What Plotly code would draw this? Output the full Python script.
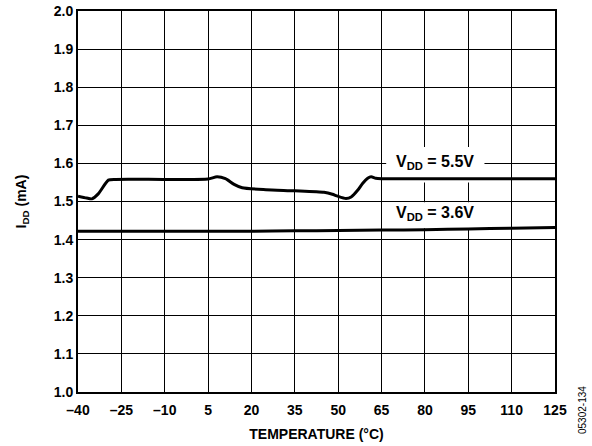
import plotly.graph_objects as go

# Data
temp_55 = [-40, -37, -35.2, -33, -29.5, -27, -10, 5, 8.1, 11, 14, 16.8, 25, 35, 45.1, 48, 49.8, 52.7, 54.5, 56.8, 58.5, 60.2, 61.4, 63, 65, 80, 95, 110, 125]
idd_55 = [1.514, 1.509, 1.507, 1.520, 1.556, 1.558, 1.558, 1.559, 1.565, 1.560, 1.545, 1.536, 1.531, 1.528, 1.524, 1.519, 1.514, 1.508, 1.512, 1.530, 1.548, 1.561, 1.565, 1.561, 1.560, 1.560, 1.560, 1.560, 1.560]
temp_36 = [-40, -10, 5, 20, 35, 50, 65, 80, 95, 110, 125]
idd_36 = [1.422, 1.422, 1.422, 1.422, 1.423, 1.424, 1.425, 1.426, 1.428, 1.430, 1.432]

x_ticks = [-40, -25, -10, 5, 20, 35, 50, 65, 80, 95, 110, 125]
x_ticktext = ["–40", "–25", "–10", "5", "20", "35", "50", "65", "80", "95", "110", "125"]
y_ticks = [1.0, 1.1, 1.2, 1.3, 1.4, 1.5, 1.6, 1.7, 1.8, 1.9, 2.0]
y_ticktext = ["1.0", "1.1", "1.2", "1.3", "1.4", "1.5", "1.6", "1.7", "1.8", "1.9", "2.0"]

font = "Liberation Sans, Arial, sans-serif"
W, H = 592, 446
L, R, T, B = 78, 37, 11, 54

fig = go.Figure()
fig.add_trace(go.Scatter(x=temp_55, y=idd_55, mode="lines",
                         line=dict(color="black", width=3, shape="spline", smoothing=0.6),
                         showlegend=False))
fig.add_trace(go.Scatter(x=temp_36, y=idd_36, mode="lines",
                         line=dict(color="black", width=3, shape="spline"),
                         showlegend=False))

# white boxes behind labels (hide gridlines)
fig.add_shape(type="rect", x0=66.6, x1=100.6, y0=1.55, y1=1.643, layer="between",
              fillcolor="white", line=dict(width=0))
fig.add_shape(type="rect", x0=66.6, x1=100.6, y0=1.43, y1=1.498, layer="between",
              fillcolor="white", line=dict(width=0))

fig.add_annotation(x=83.6, y=1.603, text="<b>V<sub>DD</sub> = 5.5V</b>", showarrow=False,
                   font=dict(family=font, size=16, color="black"))
fig.add_annotation(x=83.6, y=1.468, text="<b>V<sub>DD</sub> = 3.6V</b>", showarrow=False,
                   font=dict(family=font, size=16, color="black"))

fig.add_annotation(x=(583 - L) / (W - L - R), y=(H - B - 410) / (H - T - B),
                   xref="paper", yref="paper", text="05302-134",
                   showarrow=False, textangle=-90, xanchor="center", yanchor="middle",
                   font=dict(family=font, size=10, color="black"))

fig.update_layout(
    width=W, height=H,
    margin=dict(l=L, r=R, t=T, b=B),
    plot_bgcolor="white", paper_bgcolor="white",
    font=dict(family=font, color="black"),
    xaxis=dict(range=[-40, 125], tickvals=x_ticks, ticktext=["<b>%s</b>" % t for t in x_ticktext],
               showgrid=True, gridcolor="black", gridwidth=1,
               showline=True, linecolor="black", linewidth=2, mirror=True,
               ticks="", zeroline=False, ticklabelstandoff=4, automargin=False,
               tickfont=dict(family=font, size=14, color="black"),
               title=dict(text="<b>TEMPERATURE (°C)</b>", font=dict(family=font, size=14), standoff=12)),
    yaxis=dict(range=[1.0, 2.0], tickvals=y_ticks, ticktext=["<b>%s</b>" % t for t in y_ticktext],
               showgrid=True, gridcolor="black", gridwidth=1,
               showline=True, linecolor="black", linewidth=2, mirror=True,
               ticks="", zeroline=False, automargin=False,
               tickfont=dict(family=font, size=14, color="black"),
               title=dict(text="<b>I<sub>DD</sub> (mA)</b>", font=dict(family=font, size=14), standoff=24)),
)

fig.write_html("out.html", config={"displayModeBar": False},
               post_script="document.body.style.margin='0';")
